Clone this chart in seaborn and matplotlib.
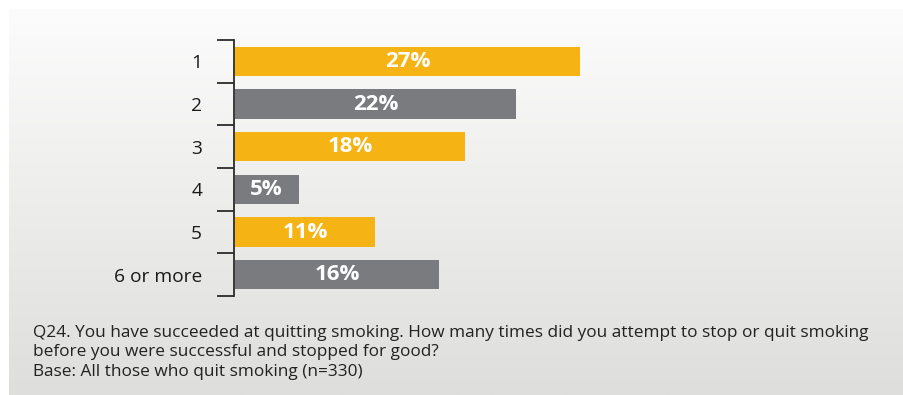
import numpy as np
import pandas as pd
import matplotlib
matplotlib.use("Agg")
import matplotlib.pyplot as plt
from matplotlib.ticker import FixedLocator
import seaborn as sns

# Number of quit attempts before quitting for good
categories = ["1", "2", "3", "4", "5", "6 or more"]
percentages = [27, 22, 18, 5, 11, 16]
bar_colors = ["#F5B314", "#797B7F", "#F5B314", "#797B7F", "#F5B314", "#797B7F"]
caption_lines = [
    "Q24. You have succeeded at quitting smoking. How many times did you attempt to stop or quit smoking",
    "before you were successful and stopped for good?",
    "Base: All those who quit smoking (n=330)",
]

sns.set_theme(style="white")
plt.rcParams["font.family"] = ["Open Sans", "DejaVu Sans"]

W, H = 904, 395
fig = plt.figure(figsize=(W / 100, H / 100), dpi=100)
fig.patch.set_facecolor("white")

# Soft vertical gradient panel behind the chart
bg = fig.add_axes([9 / W, 0, 1 - 9 / W, (H - 9) / H], zorder=0)
top = np.array([252, 252, 252]) / 255
bottom = np.array([222, 222, 220]) / 255
t = np.linspace(0, 1, 256)[:, None]
grad = (top[None, :] * (1 - t) + bottom[None, :] * t)[:, None, :]
bg.imshow(grad, aspect="auto", extent=[0, 1, 0, 1], origin="upper")
bg.set_axis_off()

# Main bar axes
left_px, right_px = 234, 904
top_px, bot_px = 40, 296
ax = fig.add_axes([left_px / W, (H - bot_px) / H, (right_px - left_px) / W, (bot_px - top_px) / H], zorder=1)
ax.patch.set_alpha(0)

df = pd.DataFrame({"attempts": categories, "pct": percentages})
sns.barplot(data=df, x="pct", y="attempts", hue="attempts", palette=bar_colors,
            orient="h", width=0.68, legend=False, ax=ax, saturation=1, linewidth=0)

px_per_pct = 12.8
ax.set_xlim(-0.05, (right_px - left_px) / px_per_pct - 0.05)
ax.set_ylim(len(categories) - 0.5, -0.5)

for container, val in zip(ax.containers, percentages):
    ax.bar_label(container, labels=[f"{val}%"], label_type="center",
                 color="white", fontsize=16, fontweight="bold")

for s in ["top", "right", "bottom"]:
    ax.spines[s].set_visible(False)
ax.spines["left"].set_color("#2b2b2b")
ax.spines["left"].set_linewidth(1.3)

ax.set_xticks([])
ax.set_xlabel("")
ax.set_ylabel("")
ax.tick_params(axis="y", which="major", length=0, pad=23, labelsize=13.8, labelcolor="#1a1a1a")
ax.yaxis.set_minor_locator(FixedLocator(np.arange(-0.5, len(categories), 1.0)))
ax.tick_params(axis="y", which="minor", length=12.5, width=1.3, color="#2b2b2b", left=True)

# Question text under the chart
for i, line in enumerate(caption_lines):
    fig.text(33 / W, 1 - (337 + i * 19.5) / H, line, fontsize=12.4, color="#222222",
             ha="left", va="baseline")

fig.savefig("out.png", dpi=100)
